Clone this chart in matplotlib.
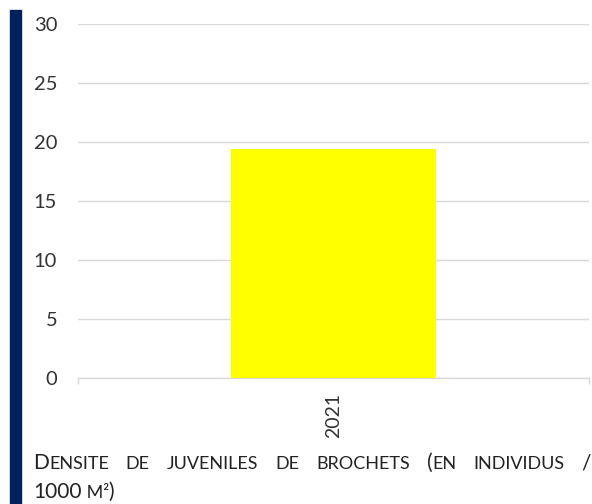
import matplotlib
matplotlib.use("Agg")
import matplotlib.pyplot as plt
from matplotlib.patches import Rectangle

# Donnees
years = ["2021"]
densite = [19.4]
y_ticks = [0, 5, 10, 15, 20, 25, 30]

plt.rcParams['font.family'] = ['Lato', 'DejaVu Sans']

W, H = 592, 504
fig = plt.figure(figsize=(W / 100, H / 100), dpi=100)

# barre bleue a gauche
fig.patches.append(Rectangle((10 / W, 0), 11 / W, (H - 10) / H,
                             transform=fig.transFigure, color='#002060', zorder=0))

ax = fig.add_axes([78 / W, (H - 378) / H, (589 - 78) / W, (378 - 24) / H])
x = list(range(len(years)))
ax.bar(x, densite, width=0.403, color='#FFFF00', zorder=3)

ax.set_xlim(-0.5, len(years) - 0.5)
ax.set_ylim(0, 30)
ax.set_yticks(y_ticks)
ax.set_xticks(x)
ax.set_xticklabels(years, rotation=90)
ax.set_xticks([-0.5 + i for i in range(len(years) + 1)], minor=True)

ax.grid(axis='y', color='#d9d9d9', linewidth=1, zorder=0)
for s in ['left', 'top', 'right']:
    ax.spines[s].set_visible(False)
ax.spines['bottom'].set_color('#d9d9d9')
ax.spines['bottom'].set_linewidth(1)

ax.tick_params(axis='y', length=0, pad=15, labelsize=14.5, labelcolor='#333333')
ax.tick_params(axis='x', which='major', length=0, pad=11, labelsize=14, labelcolor='#333333')
ax.tick_params(axis='x', which='minor', length=4, width=1, color='#d9d9d9')

# Legende en petites capitales, justifiee
big, small = 15, 13
line1 = [[("D", big), ("ENSITE", small)], [("DE", small)], [("JUVENILES", small)],
         [("DE", small)], [("BROCHETS", small)], [("(", big), ("EN", small)],
         [("INDIVIDUS", small)], [("/", big)]]
line2 = [("1000", big), (" M²", small), (")", big)]

renderer = fig.canvas.get_renderer()


def seg_width(txt, size):
    t = fig.text(0, 0, txt, fontsize=size)
    w = t.get_window_extent(renderer).width
    t.remove()
    return w


x0, x1 = 33, 591
widths = [[seg_width(t, s) for t, s in word] for word in line1]
total = sum(sum(w) for w in widths)
gap = (x1 - x0 - total) / (len(line1) - 1)
xp = x0
y1 = (H - 469) / H
for word, ws in zip(line1, widths):
    for (t, s), w in zip(word, ws):
        fig.text(xp / W, y1, t, fontsize=s, color='#222222', va='baseline')
        xp += w
    xp += gap

xp = x0
y2 = (H - 498) / H
for t, s in line2:
    fig.text(xp / W, y2, t, fontsize=s, color='#222222', va='baseline')
    xp += seg_width(t, s)

fig.savefig("out.png", dpi=100)
